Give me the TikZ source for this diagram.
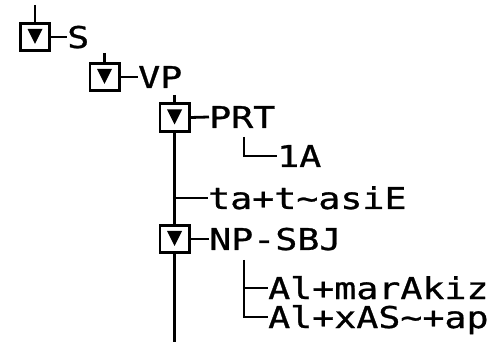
\documentclass[tikz,border=0pt]{standalone}
\usepackage{fontspec}
\usepackage{tikz}
\usetikzlibrary{positioning}
\newfontfamily\treefont[FakeStretch=1.22, FakeBold=0.9]{DejaVu Sans Mono}

\begin{document}
\begin{tikzpicture}[x=1pt, y=-1pt,
    fold/.style={draw, fill=white, line width=2.8pt, minimum width=29.2pt, minimum height=27.6pt, inner sep=0pt},
    tag/.style={anchor=west, inner sep=0pt, text height=22pt, text depth=0pt,
                font=\treefont\fontsize{30}{30}\selectfont},
    wire/.style={line width=2.8pt}]
    \useasboundingbox (0,0) rectangle (492,344);

    % collapse boxes
    \node[fold] (sBox)   at (35,37)    {};
    \node[fold] (vpBox)  at (104.5,77) {};
    \node[fold] (prtBox) at (174.5,117.5) {};
    \node[fold] (npBox)  at (174.5,239) {};
    \foreach \b in {sBox,vpBox,prtBox,npBox}
      \fill ([shift={(-7.5,-8)}]\b.center) -- ++(15,0) -- ++(-7.5,15) -- cycle;

    % labels
    \node[tag] (sLbl)   at (67,37)   {S};
    \node[tag] (vpLbl)  at (138,77)  {VP};
    \node[tag] (prtLbl) at (209,117) {PRT};
    \node[tag] (laLbl)  at (277,156) {1A};
    \node[tag] (taLbl)  at (208,198) {ta+t\textasciitilde asiE};
    \node[tag] (npLbl)  at (209,239) {NP-SBJ};
    \node[tag] (mrLbl)  at (268,288) {Al+marAkiz};
    \node[tag] (xsLbl)  at (268,317) {Al+xAS\textasciitilde+ap};

    \coordinate (sTop)   at (35,5);
    \coordinate (vpTop)  at (104.5,53);
    \coordinate (prtTop) at (174.5,95);
    \coordinate (vEnd)   at (174.5,342);
    \coordinate (laTop)  at (244,137);
    \coordinate (npTop)  at (244,260);

    \draw[wire] (sTop) -- (sBox.north);
    \draw[wire] (vpTop) -- (vpBox.north);
    \draw[wire] (prtTop) -- (prtBox.north);
    \draw[wire] (sBox.east) -- (sLbl.west);
    \draw[wire] (vpBox.east) -- (vpLbl.west);
    \draw[wire] (prtBox.east) -- (prtLbl.west);
    \draw[wire] (npBox.east) -- (npLbl.west);
    \draw[wire] (prtBox.south) -- (npBox.north);
    \draw[wire] (npBox.south) -- (vEnd);
    \draw[wire] (prtBox.south |- taLbl.west) -- (taLbl.west);
    \draw[wire] (laTop) |- (laLbl.west);
    \draw[wire] (npTop) |- (xsLbl.west);
    \draw[wire] (npTop |- mrLbl.west) -- (mrLbl.west);
\end{tikzpicture}
\end{document}
